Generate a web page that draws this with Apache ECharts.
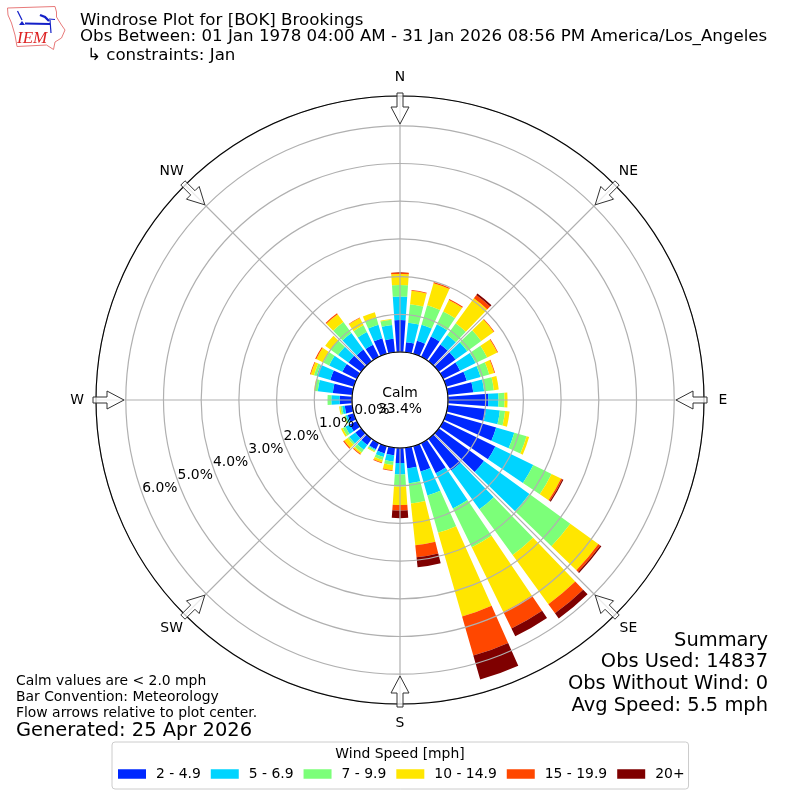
<!DOCTYPE html>
<html><head><meta charset="utf-8">
<style>html,body{margin:0;padding:0;background:#fff}#c{width:800px;height:800px}</style>
<script src="https://cdn.jsdelivr.net/npm/echarts@6/dist/echarts.min.js"></script>
</head><body><div id="c"></div>
<script>
const directions = ['0','10','20','30','40','50','60','70','80','90','100','110','120','130','140','150','160','170','180','190','200','210','220','230','240','250','260','270','280','290','300','310','320','330','340','350'];
const speedBins = ['2 - 4.9','5 - 6.9','7 - 9.9','10 - 14.9','15 - 19.9','20+'];
const binColors = ['#0028ff','#00d4ff','#7cff79','#ffe600','#ff4700','#7f0000'];
const speed2to5 = [.85,.27,.36,.6,.55,.55,.5,.57,.68,1.07,1.02,1.38,1.54,1.48,1.04,.89,.7,.55,.4,.2,.2,.18,.2,.19,.21,.17,.2,.33,.52,.65,.43,.42,.38,.36,.43,.36];
const speed5to7 = [.62,.52,.44,.36,.31,.38,.46,.38,.29,.27,.37,.5,1.12,1.49,1.27,1.04,.66,.4,.3,.17,.1,.03,.16,.2,.13,.05,.07,.22,.4,.38,.39,.34,.54,.37,.37,.37];
const speed7to10 = [.31,.49,.54,.38,.38,.46,.34,.24,.26,.16,.14,.34,.54,1.34,1.5,1.14,1.03,.54,.33,.09,.08,.04,.09,.05,.08,.04,.05,.1,.08,.07,.17,.24,.36,.2,.2,.14];
const speed10to15 = [.29,.36,.61,.34,.82,.41,.3,.14,.13,.08,.12,.07,.28,.92,1.61,1.91,2.31,1.11,.48,.14,.07,.02,.05,.12,.05,.02,.03,0,.02,.09,.21,.18,.26,.22,.15,.02];
const speed15to20 = [.04,.02,.03,.03,.11,.02,.02,.02,0,0,0,0,.04,.06,.3,.49,1.08,.32,.15,.02,.02,0,.02,.03,0,0,0,0,0,.02,.03,0,.03,.01,0,0];
const speed20plus = [0,0,0,0,.05,0,0,0,0,0,0,0,.03,.04,.17,.23,.66,.27,.2,0,0,0,0,0,0,0,0,0,0,0,0,0,0,0,0,0];
const binValues = [speed2to5,speed5to7,speed7to10,speed10to15,speed15to20,speed20plus];
const compassLabels = {0:'N',45:'NE',90:'E',135:'SE',180:'S',225:'SW',270:'W',315:'NW'};
const titleLines = ['Windrose Plot for [BOK] Brookings','Obs Between: 01 Jan 1978 04:00 AM - 31 Jan 2026 08:56 PM America/Los_Angeles','\u21B3 constraints: Jan'];
const noteLines = ['Calm values are < 2.0 mph','Bar Convention: Meteorology','Flow arrows relative to plot center.'];
const summaryLines = ['Summary','Obs Used: 14837','Obs Without Wind: 0','Avg Speed: 5.5 mph'];

const F = 'DejaVu Sans';
const CX=400, CY=400, R0=48, R=304, MAXV=6.79;
const center=[CX,CY];
const SMALL=13.9, MID=16.67, BIG=19.44;

function text(x,y,t,size,align){
  return {type:'text',z:20,style:{x,y,text:t,font:size+'px "'+F+'"',fill:'#000',textAlign:align||'left',textVerticalAlign:'middle'}};
}
const graphics=[];
titleLines.forEach((t,i)=>graphics.push(text(i===2?87:80,[21,37,56][i],t,MID)));
noteLines.forEach((t,i)=>graphics.push(text(16,[681,697,713][i],t,SMALL)));
graphics.push(text(16,731,'Generated: 25 Apr 2026',BIG));
summaryLines.forEach((t,i)=>graphics.push(text(768,[641,662,684,706][i],t,BIG,'right')));
graphics.push(text(400,393,'Calm',SMALL,'center'));
graphics.push(text(400,409,'33.4%',SMALL,'center'));
graphics.push(text(400,754,'Wind Speed [mph]',SMALL,'center'));

// compass labels and inward flow arrows
Object.keys(compassLabels).forEach(a=>{
  const t=a*Math.PI/180, s=Math.sin(t), c=Math.cos(t);
  const P=(r,o)=>[CX+r*s+o*c, CY-r*c+o*s];
  graphics.push({type:'polygon',z:15,shape:{points:[P(307,-3),P(293,-3),P(293,-9),P(276,0),P(293,9),P(293,3),P(307,3)]},
    style:{fill:'rgba(255,255,255,0.75)',stroke:'#333',lineWidth:1}});
  const L=P(323,0);
  graphics.push(text(L[0],L[1],compassLabels[a],SMALL,'center'));
});
// logo
const logoLine=(points,stroke,lineWidth)=>graphics.push({type:'polyline',z:15,shape:{points},style:{stroke,fill:'none',lineWidth}});
logoLine([[7.5,8],[55,6.5],[56.5,12],[56.5,17],[61.5,25],[65,30],[61.5,38],[55,42],[53.5,49.5],[46.5,45],[17,46.5],[15,35],[11.5,23],[8,15],[7.5,8]],'#e87a7a',1);
logoLine([[25,23.5],[50,24]],'#1420c8',2);
logoLine([[17.5,11],[20,16],[22,20]],'#1420c8',1.2);
logoLine([[40,15],[45,17],[49,21]],'#1420c8',2.4);
logoLine([[49,19],[55,19.5]],'#1420c8',1);
logoLine([[50,20],[51,33]],'#1420c8',1.2);
graphics.push({type:'polygon',z:15,shape:{points:[[19,25],[22,21],[25,25]]},style:{fill:'#1420c8'}});
graphics.push({type:'text',z:15,style:{x:17,y:39,text:'IEM',font:'italic 17px "Liberation Serif"',fill:'#d22',textVerticalAlign:'middle'}});

const series = speedBins.map((name,i)=>({
  name,type:'bar',coordinateSystem:'polar',polarIndex:0,stack:'wind',barWidth:'80%',z:2,
  silent:true,animation:false,
  itemStyle:{color:binColors[i]},data:binValues[i]
}));

const option={
  animation:false,backgroundColor:'#fff',
  textStyle:{fontFamily:F},
  polar:[
    {center,radius:[R0,R]},
    {center,radius:[R0,R]},
    {center,radius:[30,256]}
  ],
  angleAxis:[
    {polarIndex:0,type:'category',data:directions,startAngle:95,clockwise:true,show:false},
    {polarIndex:1,type:'value',min:0,max:360,interval:45,startAngle:90,clockwise:true,z:5,
      axisLine:{show:true,lineStyle:{color:'#000',width:1.1}},
      axisTick:{show:false},
      splitLine:{show:true,lineStyle:{color:'#b0b0b0',width:1.2}},
      axisLabel:{show:false}},
    {polarIndex:2,type:'value',min:0,max:360,startAngle:200.3,show:false}
  ],
  radiusAxis:[
    {polarIndex:0,type:'value',min:0,max:MAXV,show:false},
    {polarIndex:1,type:'value',min:0,max:MAXV,interval:1,z:4,
      axisLine:{show:false},axisTick:{show:false},axisLabel:{show:false},
      splitLine:{show:true,lineStyle:{color:'#b0b0b0',width:1.2}}},
    {polarIndex:2,type:'value',min:0,max:6,interval:1,z:12,
      axisLine:{show:false},axisTick:{show:false},splitLine:{show:false},
      axisLabel:{show:true,margin:0,fontSize:SMALL,color:'#000',fontFamily:F,align:'center',verticalAlign:'middle',
        formatter:v=>v.toFixed(1)+'%'}}
  ],
  legend:{show:true,orient:'horizontal',left:112,top:742,data:speedBins,
    padding:[25,4,8,6],itemWidth:28,itemHeight:9.5,itemGap:10,icon:'rect',
    backgroundColor:'#fff',borderColor:'#ccc',borderWidth:1,borderRadius:3,selectedMode:false,z:10,
    textStyle:{fontSize:SMALL,color:'#000',fontFamily:F,padding:[0,0,0,5]}},
  series,
  graphic:{elements:graphics}
};
const chart=echarts.init(document.getElementById('c'),null,{renderer:'canvas',width:800,height:800});
chart.setOption(option);
</script></body></html>
